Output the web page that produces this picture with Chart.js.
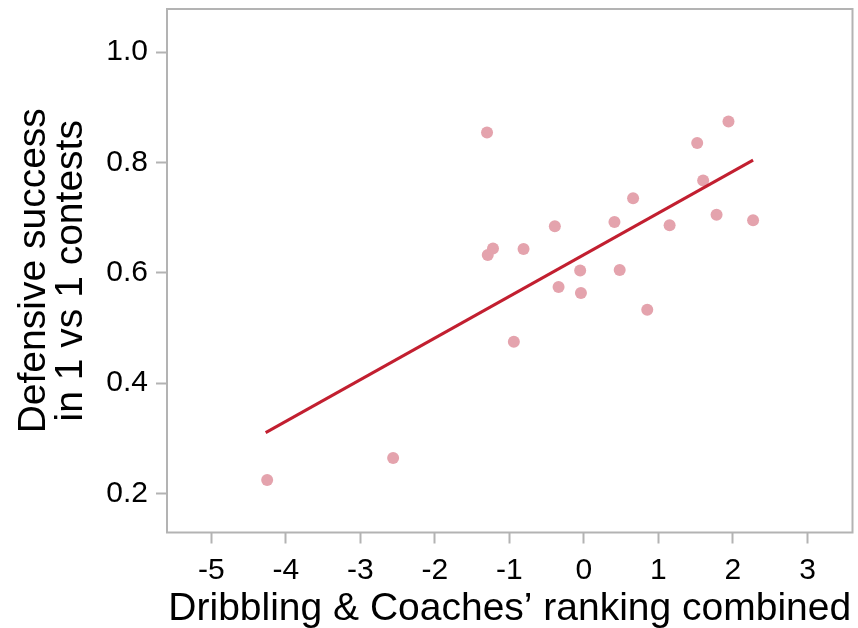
<!DOCTYPE html>
<html>
<head>
<meta charset="utf-8">
<title>Defensive success vs dribbling</title>
<script src="https://cdn.jsdelivr.net/npm/chart.js@4"></script>
<style>
  html, body { margin: 0; padding: 0; background: #fff; }
  canvas { display: block; }
</style>
</head>
<body>
<canvas id="chart" width="858" height="628"></canvas>
<script>
// Data
const playerX = [-4.25, -2.56, -1.30, 1.94, 1.52, 1.60, 0.66, 1.78, 2.27, 1.15, 0.41,
                 -0.39, -1.22, -1.29, -0.81, -0.05, 0.48, -0.34, -0.04, 0.85, -0.94];
const playerY = [0.224, 0.264, 0.854, 0.874, 0.835, 0.767, 0.735, 0.705, 0.695, 0.686, 0.692,
                 0.684, 0.644, 0.632, 0.643, 0.604, 0.605, 0.574, 0.563, 0.533, 0.475];

// Fitted line end points
const fitX = [-4.27, 2.27];
const fitY = [0.310, 0.804];

// Tick labels
const xTicks = [-5, -4, -3, -2, -1, 0, 1, 2, 3];
const yTicks = [0.2, 0.4, 0.6, 0.8, 1.0];

const xTitle = 'Dribbling & Coaches\u2019 ranking combined';
const yTitle = ['Defensive success', 'in 1 vs 1 contests'];

const axisGrey = '#b3b3b3';
const fontFamily = '"Liberation Sans", Arial, Helvetica, sans-serif';

// cadre gris autour de la zone du graphique
const framePlugin = {
    id: 'frame',
    beforeDatasetsDraw(chart) {
        const a = chart.chartArea;
        const ctx = chart.ctx;
        ctx.save();
        ctx.strokeStyle = axisGrey;
        ctx.lineWidth = 2;
        ctx.strokeRect(a.left, a.top, a.right - a.left, a.bottom - a.top);
        ctx.restore();
    }
};

const points = playerX.map((x, i) => ({ x: x, y: playerY[i] }));
const fitLine = fitX.map((x, i) => ({ x: x, y: fitY[i] }));

new Chart(document.getElementById('chart'), {
    type: 'scatter',
    data: {
        datasets: [
            {
                type: 'line',
                data: fitLine,
                borderColor: '#c21f30',
                borderWidth: 3,
                pointRadius: 0,
                fill: false,
                order: 0
            },
            {
                data: points,
                backgroundColor: '#e4a3ad',
                borderWidth: 0,
                pointRadius: 6,
                order: 1
            }
        ]
    },
    plugins: [framePlugin],
    options: {
        responsive: false,
        animation: false,
        layout: { autoPadding: false, padding: { top: 9, right: 5.5, left: 0, bottom: 0 } },
        plugins: { legend: { display: false }, tooltip: { enabled: false } },
        scales: {
            x: {
                type: 'linear',
                min: -5.594,
                max: 3.604,
                afterBuildTicks: s => { s.ticks = xTicks.map(v => ({ value: v })); },
                afterFit: s => { s.height = 95.5; s.paddingLeft = 0; s.paddingRight = 0; },
                border: { display: false },
                grid: { drawOnChartArea: false, tickLength: 11, tickColor: axisGrey, tickWidth: 2 },
                ticks: {
                    color: '#000',
                    padding: 9,
                    font: { family: fontFamily, size: 30 },
                    callback: v => String(v)
                },
                title: {
                    display: true,
                    text: xTitle,
                    color: '#000',
                    padding: 0,
                    font: { family: fontFamily, size: 39, lineHeight: 0.97 }
                }
            },
            y: {
                type: 'linear',
                min: 0.129,
                max: 1.078,
                afterBuildTicks: s => { s.ticks = yTicks.map(v => ({ value: v })); },
                afterFit: s => { s.width = 167; s.paddingTop = 0; s.paddingBottom = 0; },
                border: { display: false },
                grid: { drawOnChartArea: false, tickLength: 11, tickColor: axisGrey, tickWidth: 2 },
                ticks: {
                    color: '#000',
                    padding: 8,
                    font: { family: fontFamily, size: 30 },
                    callback: v => v.toFixed(1)
                },
                title: {
                    display: true,
                    text: yTitle,
                    color: '#000',
                    padding: { top: 15, bottom: 0 },
                    font: { family: fontFamily, size: 39, lineHeight: 0.97 }
                }
            }
        }
    }
});
</script>
</body>
</html>
